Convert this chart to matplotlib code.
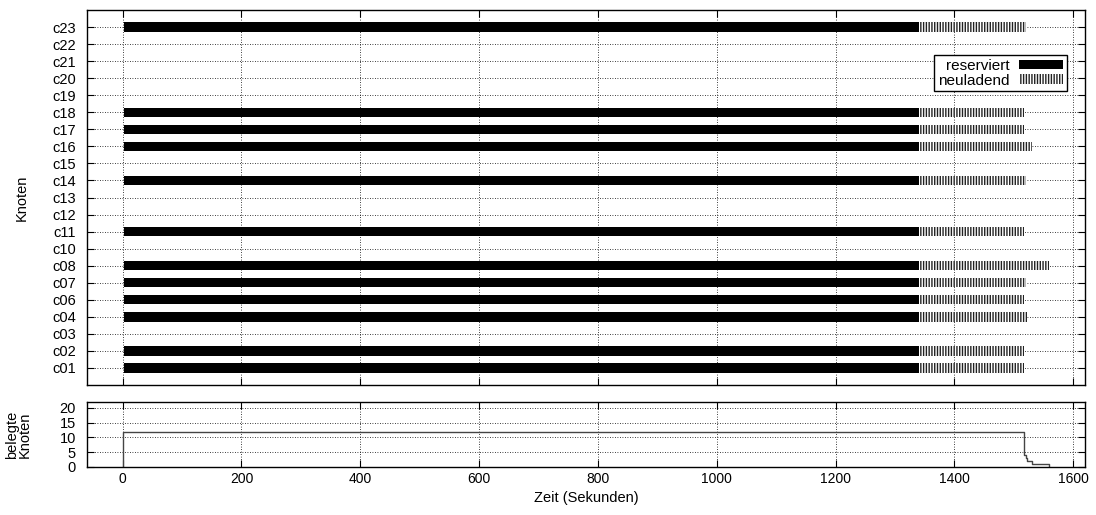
import numpy as np
import matplotlib
matplotlib.use("Agg")
import matplotlib.pyplot as plt

plt.rcParams['font.family'] = ['Liberation Sans', 'DejaVu Sans']
plt.rcParams['font.size'] = 10
plt.rcParams['hatch.linewidth'] = 1.0

# node names and timings (seconds)
nodes = ['c01', 'c02', 'c03', 'c04', 'c06', 'c07', 'c08', 'c10', 'c11', 'c12', 'c13',
         'c14', 'c15', 'c16', 'c17', 'c18', 'c19', 'c20', 'c21', 'c22', 'c23']
used = [1, 1, 0, 1, 1, 1, 1, 0, 1, 0, 0, 1, 0, 1, 1, 1, 0, 0, 0, 0, 1]
res_start = [2, 2, 0, 2, 2, 2, 2, 0, 2, 0, 0, 2, 0, 2, 2, 2, 0, 0, 0, 0, 2]
reload_start = [1340, 1340, 0, 1340, 1340, 1340, 1340, 0, 1340, 0, 0, 1340, 0, 1340, 1340, 1340, 0, 0, 0, 0, 1340]
reload_end = [1517, 1517, 0, 1522, 1517, 1520, 1559, 0, 1517, 0, 0, 1520, 0, 1530, 1517, 1517, 0, 0, 0, 0, 1521]

# occupied nodes over time (step function)
occ_t = [0, 0, 1517, 1518, 1520, 1522, 1530, 1559]
occ_n = [0, 12, 6, 4, 3, 2, 1, 0]

fig = plt.figure(figsize=(10.96, 5.15), dpi=100)
ax = fig.add_axes([87 / 1096, 130 / 515, 998 / 1096, 375 / 515])
ax2 = fig.add_axes([87 / 1096, 48 / 515, 998 / 1096, 65 / 515], sharex=ax)

ypos = np.arange(1, len(nodes) + 1)
first = True
for y, u, s, r, e in zip(ypos, used, res_start, reload_start, reload_end):
    if not u:
        continue
    ax.barh(y, r - s, left=s, height=0.55, color='black', linewidth=0,
            label='reserviert' if first else None, zorder=3)
    ax.barh(y, e - r, left=r, height=0.55, facecolor='white', edgecolor='#222222',
            hatch='||||||', linewidth=0, label='neuladend' if first else None, zorder=3)
    first = False

ax.set_yticks(ypos)
ax.set_yticklabels(nodes)
ax.set_ylim(0, len(nodes) + 1)
ax.set_xlim(-60, 1620)
ax.set_xticks(np.arange(0, 1601, 200))
ax.tick_params(labelbottom=False)
ax.set_ylabel('Knoten', fontsize=10.5)
ax.yaxis.set_label_coords(-0.058, 0.5)

ax2.step(occ_t, occ_n, where='post', color='#444444', linewidth=1)
ax2.set_ylim(0, 22)
ax2.set_yticks([0, 5, 10, 15, 20])
ax2.set_xlabel('Zeit (Sekunden)', fontsize=10.5)
ax2.set_ylabel('belegte\nKnoten', linespacing=0.95, fontsize=10.5)
ax2.yaxis.set_label_coords(-0.055, 0.5)

for a in (ax, ax2):
    a.grid(True, linestyle=(0, (1, 2)), color='black', linewidth=0.6)
    a.set_axisbelow(True)
    a.tick_params(direction='in', top=True, right=True, length=5, labelsize=10)
    a.tick_params(axis='y', labelsize=10.5, pad=8)
    for sp in a.spines.values():
        sp.set_linewidth(1.0)

leg = ax.legend(loc='upper right', bbox_to_anchor=(0.982, 0.88), markerfirst=False,
                alignment='right', frameon=True, fancybox=False, edgecolor='black',
                framealpha=1, handlelength=2.9, handleheight=0.6, borderpad=0.25,
                labelspacing=0.05, handletextpad=0.6, borderaxespad=0, fontsize=11)
leg.get_frame().set_linewidth(1.0)

fig.savefig('out.png', dpi=100)
